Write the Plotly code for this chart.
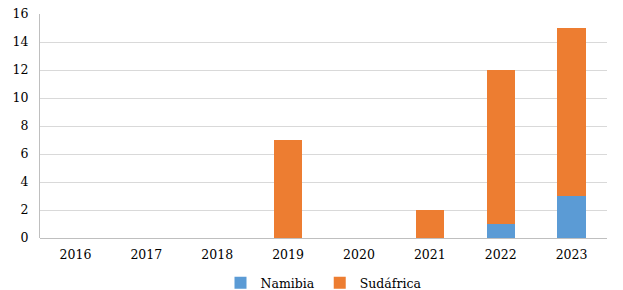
import plotly.graph_objects as go

years = ["2016", "2017", "2018", "2019", "2020", "2021", "2022", "2023"]
namibia = [0, 0, 0, 0, 0, 0, 1, 3]
sudafrica = [0, 0, 0, 7, 0, 2, 11, 12]

serif = "DejaVu Serif"
fs = 12.5

fig = go.Figure()
fig.add_trace(go.Bar(x=years, y=namibia, name="Namibia", marker=dict(color="#5B9BD5", line=dict(width=0))))
fig.add_trace(go.Bar(x=years, y=sudafrica, name="Sudáfrica", marker=dict(color="#ED7D31", line=dict(width=0))))

fig.update_layout(
    barmode="stack",
    bargap=0.6,
    width=623, height=290,
    margin=dict(l=40, r=16, t=14, b=52, autoexpand=False),
    plot_bgcolor="white", paper_bgcolor="white",
    font=dict(family=serif, size=fs, color="#000000"),
    legend=dict(orientation="h", x=0.5, xanchor="center", y=-0.135, yanchor="top",
                font=dict(family=serif, size=fs), itemwidth=30, traceorder="normal",
                tracegroupgap=0),
    xaxis=dict(type="category", showgrid=False, showline=False, ticks="", automargin=False,
               ticklabelstandoff=7, tickfont=dict(family=serif, size=fs)),
    yaxis=dict(range=[0, 16], dtick=2, showgrid=True, gridcolor="#D9D9D9", gridwidth=1,
               showline=True, linecolor="#BFBFBF", linewidth=1, zeroline=True, automargin=False,
               zerolinecolor="#BFBFBF", zerolinewidth=1, ticks="", ticklabelstandoff=8,
               ticklabeloverflow="allow", tickfont=dict(family=serif, size=fs)),
)

fig.write_html("out.html", config={"displayModeBar": False},
               post_script="document.body.style.margin='0px';document.body.style.overflow='hidden';")
